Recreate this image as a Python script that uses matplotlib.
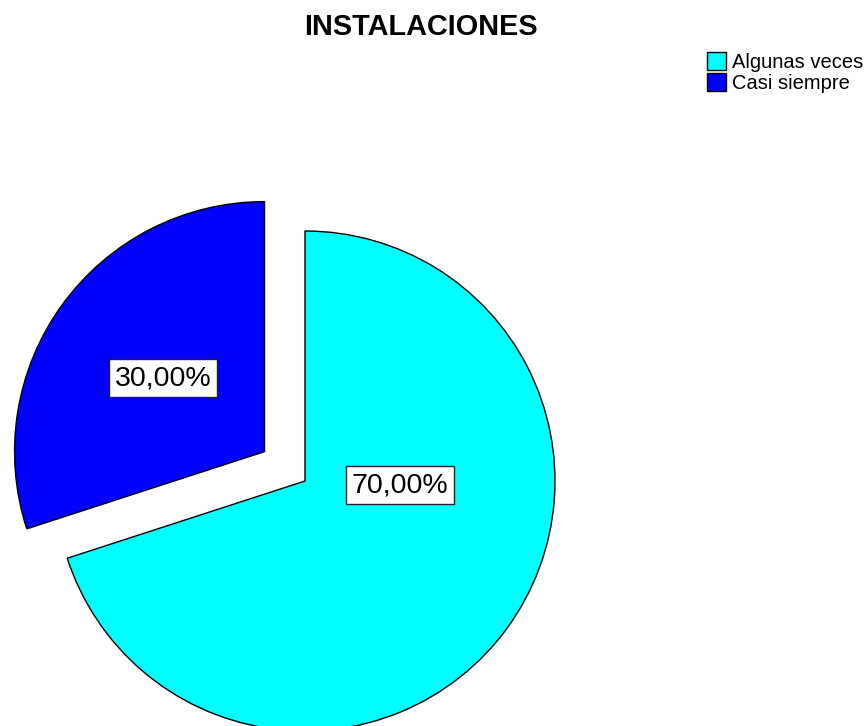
import matplotlib
matplotlib.use("Agg")
import matplotlib.pyplot as plt
import numpy as np

plt.rcParams['font.family'] = ['Liberation Sans', 'DejaVu Sans']

# Data
categories = ["Algunas veces", "Casi siempre"]
percentages = [70.0, 30.0]
colors = ["#00FFFF", "#0000FF"]
explode_frac = [0.0, 0.2]
# label placement: (distance as fraction of radius, angle in degrees) from each wedge's apex
label_pos = [(0.38, -2.5), (0.50, 144.0)]

W, H = 868, 726
fig = plt.figure(figsize=(W / 100, H / 100), dpi=100)
ax = fig.add_axes([0, 0, 1, 1])

radius = 250
center = (305, 245)

wedges, _ = ax.pie(percentages, colors=colors, startangle=90, counterclock=False,
                   explode=[e * radius for e in explode_frac], radius=radius,
                   center=center,
                   wedgeprops=dict(edgecolor="black", linewidth=1.0))
ax.set_xlim(0, W)
ax.set_ylim(0, H)
ax.set_aspect("equal")
ax.axis("off")

for w, pct, (d, ang) in zip(wedges, percentages, label_pos):
    cx, cy = w.center
    a = np.deg2rad(ang)
    tx = cx + d * radius * np.cos(a)
    ty = cy + d * radius * np.sin(a)
    ax.text(tx, ty, f"{pct:.2f}".replace(".", ",") + "%", ha="center", va="center",
            fontsize=20.5,
            bbox=dict(boxstyle="square,pad=0.2", facecolor="white",
                      edgecolor="#222222", linewidth=1.0))

fig.text(421 / W, 1 - 27 / H, "INSTALACIONES", ha="center", va="center",
         fontsize=20.8, fontweight="bold")

leg = fig.legend(wedges, categories, loc="upper left",
                 bbox_to_anchor=(707 / W, 1 - 52 / H), frameon=False,
                 fontsize=14.5, handlelength=0.95, handleheight=1.0,
                 handletextpad=0.3, labelspacing=0.05, borderpad=0,
                 borderaxespad=0)

fig.savefig("out.png", dpi=100)
